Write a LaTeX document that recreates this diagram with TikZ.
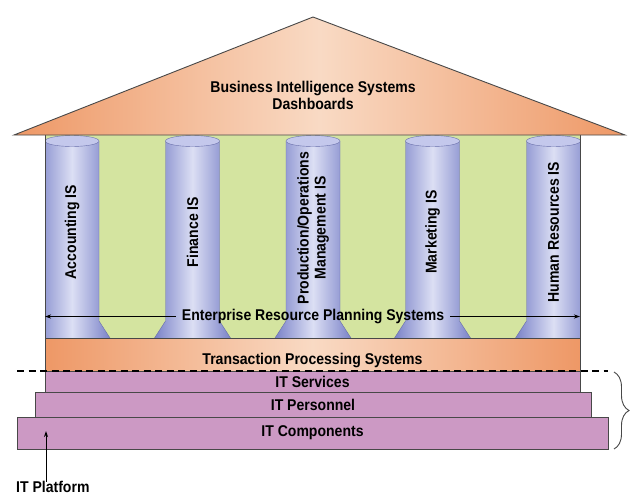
\documentclass[tikz,border=0pt]{standalone}
\usepackage{fontspec}
\setmainfont[FakeStretch=0.9]{Liberation Sans}
\usetikzlibrary{arrows.meta,decorations.pathreplacing}
\definecolor{orEdge}{RGB}{238,152,102}
\definecolor{orMid}{RGB}{249,218,196}
\definecolor{colDark}{RGB}{122,130,200}
\definecolor{colLight}{RGB}{220,223,244}
\definecolor{colTop}{RGB}{196,200,236}
\definecolor{greenFill}{RGB}{212,228,160}
\definecolor{mauve}{RGB}{204,153,196}
\definecolor{edgeC}{RGB}{72,72,72}
\tikzset{
  lbl/.style={font=\bfseries\fontsize{15.6}{17}\selectfont, text=black, align=center, inner sep=0pt},
  layer/.style={draw=edgeC, line width=0.9pt, fill=mauve, lbl},
  orshade/.style={left color=orEdge, right color=orEdge, middle color=orMid},
  colbody/.style={left color=colDark, right color=colDark, middle color=colLight},
  coledge/.style={draw=colDark!85!black, line width=0.4pt},
  arr/.style={-{Stealth[length=6pt,width=4pt]}, line width=0.9pt}
}
\begin{document}
\begin{tikzpicture}[x=1pt,y=-1pt]
\useasboundingbox (0,0) rectangle (634,496);
\fill[white] (0,0) rectangle (634,496);
% green backdrop
\fill[greenFill] (45,135) rectangle (580,338);
% columns
\begin{scope}
  \clip (45,120) rectangle (580,338);
  \foreach \cx in {72,192.5,313,432.5,553.5} {
    \shade[colbody] (\cx-27,141) -- (\cx-27,321) -- (\cx-38,338) -- (\cx+38,338) -- (\cx+27,321) -- (\cx+27,141) -- cycle;
    \draw[coledge] (\cx-27,141) -- (\cx-27,321) -- (\cx-38,338);
    \draw[coledge] (\cx+27,141) -- (\cx+27,321) -- (\cx+38,338);
    \filldraw[fill=colTop, coledge] (\cx,141) ellipse [x radius=27, y radius=5.5];
  }
\end{scope}
\draw[edgeC, line width=0.8pt] (45,135) -- (45,338);
\draw[edgeC, line width=0.8pt] (580,135) -- (580,338);
% roof
\shade[orshade] (14,135) -- (313,17) -- (625,135) -- cycle;
\draw[edgeC, line width=0.9pt, line join=miter] (14,135) -- (313,17) -- (625,135) -- cycle;
\node[lbl] (bi) at (313,95) {Business Intelligence Systems\\Dashboards};
% column labels
\node[lbl, rotate=90] (acc) at (72,232) {Accounting IS};
\node[lbl, rotate=90] (fin) at (192.5,232) {Finance IS};
\node[lbl, rotate=90] (prod) at (313,228) {Production/Operations\\Management IS};
\node[lbl, rotate=90] (mkt) at (432.5,232) {Marketing IS};
\node[lbl, rotate=90] (hr) at (553.5,232) {Human Resources IS};
% ERP
\node[lbl, fill=none] (erp) at (313,316.5) {Enterprise Resource Planning Systems};
\coordinate (erpL) at (45,316.5);
\coordinate (erpR) at (580,316.5);
\draw[arr] ([xshift=-6pt]erp.west) -- (erpL);
\draw[arr] ([xshift=6pt]erp.east) -- (erpR);
% TPS
\node[draw=edgeC, line width=0.9pt, orshade, minimum width=535pt, minimum height=33pt, inner sep=0pt] (tps) at (312.5,354.5) {};
\node[lbl] (tpsT) at (312.5,360) {Transaction Processing Systems};
% IT layers
\node[layer, minimum width=591pt, minimum height=32pt] (comp) at (312.5,433) {IT Components};
\node[layer, minimum width=556pt, minimum height=25pt] (pers) at (313,404.5) {IT Personnel};
\node[layer, minimum width=535pt, minimum height=21pt] (serv) at (312.5,381.5) {IT Services};
% dashed divider
\coordinate (dL) at (17,371);
\coordinate (dR) at (608,371);
\draw[line width=1.4pt, dash pattern=on 7pt off 4.5pt] (dL) -- (dR);
% brace
\coordinate (bT) at (614,372);
\coordinate (bB) at (614,449);
\draw[edgeC, line width=0.9pt, decorate, decoration={brace, amplitude=15pt}] (bT) -- (bB);
% IT platform
\node[lbl, anchor=west] (plat) at (16,486.5) {IT Platform};
\coordinate (ptip) at (46,431);
\draw[arr] ([yshift=-1pt]plat.north -| ptip) -- (ptip);
\end{tikzpicture}
\end{document}
